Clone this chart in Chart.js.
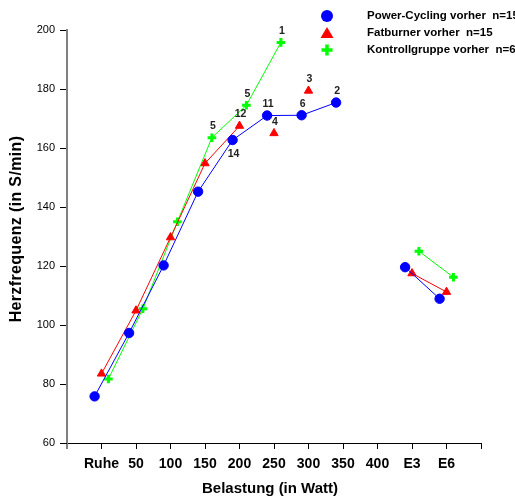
<!DOCTYPE html>
<html>
<head>
<meta charset="UTF-8">
<title>Herzfrequenz bei Belastung</title>
<script src="https://cdn.jsdelivr.net/npm/chart.js"></script>
<style>
  body { margin: 0; background: #fff; }
</style>
</head>
<body>
<canvas id="hfChart" width="515" height="503"></canvas>
<script>
// Kategorien der x-Achse (Position 1..11)
const belastung = ["Ruhe", "50", "100", "150", "200", "250", "300", "350", "400", "E3", "E6"];

// Herzfrequenz je Gruppe (null = kein Wert)
const powerCycling = [75.8, 97.3, 120.2, 145.2, 162.7, 171.0, 171.1, 175.4, null, 119.6, 108.9];
const fatburner    = [83.5, 104.9, 129.7, 154.8, 167.5, null, null, null, null, 117.5, 111.2];
const fatburnerEinzel = [null, null, null, null, null, 165.0, 179.4, null, null, null, null];
const kontrolle    = [81.7, 105.5, 135.0, 163.5, 174.5, 195.8, null, null, null, 125.0, 116.2];

// Anzahl Probanden an einzelnen Punkten
const nPowerCycling = [null, null, null, null, "14", "11", "6", "2", null, null, null];
const nFatburner    = [null, null, null, null, "12", "4", "3", null, null, null, null];
const nKontrolle    = [null, null, null, "5", "5", "1", null, null, null, null, null];

const legendTexte = ["Power-Cycling vorher  n=15", "Fatburner vorher  n=15", "Kontrollgruppe vorher  n=6"];

const yTicks = { min: 60, max: 200, step: 20 };

const BLAU = "#0000ff", ROT = "#ff0000", GRUEN = "#00ff00";
const FONT = "Arial, 'Liberation Sans', sans-serif";

// Werte -> Punkte, leicht versetzt je Gruppe
function toPoints(values, shift) {
    return values.map((v, i) => ({ x: i + 1 + shift, y: v }));
}

const labelPlugin = {
    id: "labels",
    beforeDatasetsDraw(chart) {
        // Achsen etwas über den Nullpunkt hinaus verlängern
        const { ctx, chartArea: a } = chart;
        ctx.save();
        ctx.strokeStyle = "#808080";
        ctx.lineWidth = 2;
        ctx.beginPath(); ctx.moveTo(a.left, a.bottom); ctx.lineTo(a.left, a.bottom + 6); ctx.stroke();
        ctx.strokeStyle = "#000";
        ctx.lineWidth = 1;
        ctx.beginPath(); ctx.moveTo(a.left - 6, a.bottom + 0.5); ctx.lineTo(a.left, a.bottom + 0.5); ctx.stroke();
        ctx.restore();
    },
    afterDatasetsDraw(chart) {
        const ctx = chart.ctx;
        ctx.save();
        ctx.fillStyle = "#222";
        ctx.font = "bold 10.5px " + FONT;
        ctx.textAlign = "center";
        ctx.textBaseline = "middle";
        chart.data.datasets.forEach((ds, di) => {
            if (!ds.nLabels) return;
            const meta = chart.getDatasetMeta(di);
            ds.nLabels.forEach((txt, i) => {
                const p = meta.data[i];
                if (!txt || !p || p.skip || isNaN(p.y)) return;
                const below = ds.nBelow && ds.nBelow.includes(i);
                ctx.fillText(txt, p.x + 1, p.y + (below ? 14 : -11.5));
            });
        });
        ctx.restore();
    },
    afterDraw(chart) {
        const ctx = chart.ctx;
        ctx.save();
        // Achsentitel
        ctx.fillStyle = "#000";
        ctx.textAlign = "center";
        ctx.textBaseline = "middle";
        ctx.font = "bold 15px " + FONT;
        ctx.fillText("Belastung (in Watt)", 270, 489);
        ctx.font = "bold 16px " + FONT;
        ctx.letterSpacing = "0.35px";
        ctx.translate(17, 229);
        ctx.rotate(-Math.PI / 2);
        ctx.fillText("Herzfrequenz (in S/min)", 0, 0);
        ctx.restore();

        // Legende
        ctx.save();
        ctx.font = "bold 11.5px " + FONT;
        ctx.textBaseline = "middle";
        ctx.textAlign = "left";
        const farben = [BLAU, ROT, GRUEN];
        legendTexte.forEach((t, i) => {
            const y = 16 + i * 17;
            const x = 327;
            ctx.fillStyle = farben[i];
            ctx.strokeStyle = farben[i];
            if (i === 0) {
                ctx.beginPath(); ctx.arc(x, y, 6, 0, Math.PI * 2); ctx.fill();
            } else if (i === 1) {
                ctx.beginPath(); ctx.moveTo(x, y - 6); ctx.lineTo(x + 6.5, y + 5); ctx.lineTo(x - 6.5, y + 5); ctx.closePath(); ctx.fill();
            } else {
                ctx.lineWidth = 3.5;
                ctx.beginPath(); ctx.moveTo(x - 5.5, y); ctx.lineTo(x + 5.5, y); ctx.moveTo(x, y - 5.5); ctx.lineTo(x, y + 5.5); ctx.stroke();
            }
            ctx.fillStyle = "#000";
            ctx.fillText(t, 367, y);
        });
        ctx.restore();
    }
};

new Chart(document.getElementById("hfChart"), {
    type: "line",
    data: {
        datasets: [
            {
                data: toPoints(powerCycling, -0.2),
                borderColor: BLAU, backgroundColor: BLAU, borderWidth: 1,
                pointStyle: "circle", pointRadius: 4.7, pointBorderWidth: 1,
                nLabels: nPowerCycling, nBelow: [4]
            },
            {
                data: toPoints(fatburner, 0),
                borderColor: ROT, backgroundColor: ROT, borderWidth: 1,
                pointStyle: "triangle", pointRadius: 4.8, pointBorderWidth: 1,
                nLabels: nFatburner
            },
            {
                data: toPoints(fatburnerEinzel, 0),
                borderColor: ROT, backgroundColor: ROT, showLine: false,
                pointStyle: "triangle", pointRadius: 4.8, pointBorderWidth: 1,
                nLabels: nFatburner
            },
            {
                data: toPoints(kontrolle, 0.2),
                borderColor: GRUEN, backgroundColor: GRUEN, borderWidth: 1,
                pointStyle: "cross", pointRadius: 4.3, pointBorderWidth: 3,
                nLabels: nKontrolle
            }
        ]
    },
    options: {
        responsive: false,
        animation: false,
        spanGaps: false,
        layout: { padding: { top: 30, right: 34, left: 0, bottom: 0 } },
        plugins: { legend: { display: false }, tooltip: { enabled: false } },
        scales: {
            x: {
                type: "linear", min: 0, max: 12,
                afterFit: s => { s.height = 60; },
                grid: { drawOnChartArea: false, tickLength: 6, tickColor: "#000", tickWidth: 1 },
                border: { color: "#000", width: 1 },
                ticks: {
                    stepSize: 1, autoSkip: false, maxRotation: 0, padding: 7,
                    color: "#000", font: { family: FONT, size: 14, weight: "bold" },
                    callback: v => belastung[v - 1] || ""
                }
            },
            y: {
                min: yTicks.min, max: yTicks.max,
                afterFit: s => { s.width = 67; },
                grid: { drawOnChartArea: false, tickLength: 7, tickColor: "#000", tickWidth: 1 },
                border: { color: "#808080", width: 2 },
                ticks: {
                    stepSize: yTicks.step, padding: 5,
                    color: "#000", font: { family: FONT, size: 11 }
                }
            }
        }
    },
    plugins: [labelPlugin]
});
</script>
</body>
</html>
